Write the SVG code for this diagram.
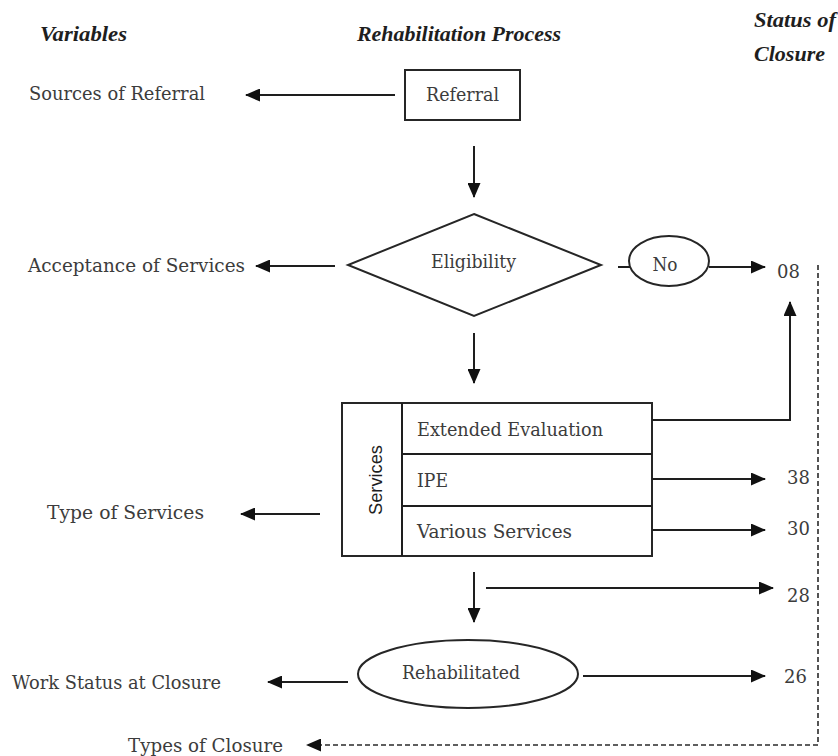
<svg xmlns="http://www.w3.org/2000/svg" width="838" height="756" viewBox="0 0 838 756">
<style>
.head{font-family:"Liberation Serif","Times New Roman",serif;font-style:italic;font-weight:bold;font-size:20px;fill:#1e1e1e}
.lbl{font-family:"DejaVu Serif","Liberation Serif",serif;font-size:18px;fill:#3c3c3c}
.num{font-family:"DejaVu Serif","Liberation Serif",serif;font-size:18px;fill:#3c3c3c}
.sans{font-family:"Liberation Sans",Arial,sans-serif;font-size:19px;fill:#1e1e1e}
.shape{fill:#fff;stroke:#262626;stroke-width:2}
.conn{fill:none;stroke:#1e1e1e;stroke-width:2}
.dash{fill:none;stroke:#2a2a2a;stroke-width:1.6;stroke-dasharray:5 3}
</style>
<defs>
<marker id="ah" markerUnits="userSpaceOnUse" markerWidth="15" markerHeight="13" refX="14" refY="6.5" orient="auto">
<path d="M0,0 L15,6.5 L0,13 z" fill="#111"/>
</marker>
</defs>
<rect width="838" height="756" fill="#fff"/>

<g id="headers">
<text class="head" x="40" y="41" textLength="87" lengthAdjust="spacingAndGlyphs">Variables</text>
<text class="head" x="357" y="41" textLength="204" lengthAdjust="spacingAndGlyphs">Rehabilitation Process</text>
<text class="head" x="754" y="27" textLength="82" lengthAdjust="spacingAndGlyphs">Status of</text>
<text class="head" x="754" y="61" textLength="71" lengthAdjust="spacingAndGlyphs">Closure</text>
</g>

<g id="variables">
<text class="lbl" x="29" y="100" textLength="176" lengthAdjust="spacingAndGlyphs">Sources of Referral</text>
<text class="lbl" x="28" y="272" textLength="217" lengthAdjust="spacingAndGlyphs">Acceptance of Services</text>
<text class="lbl" x="47" y="519" textLength="157" lengthAdjust="spacingAndGlyphs">Type of Services</text>
<text class="lbl" x="12" y="689" textLength="209" lengthAdjust="spacingAndGlyphs">Work Status at Closure</text>
<text class="lbl" x="128" y="752" textLength="155" lengthAdjust="spacingAndGlyphs">Types of Closure</text>
</g>

<g id="status-codes">
<text class="num" x="777" y="278">08</text>
<text class="num" x="787" y="484">38</text>
<text class="num" x="787" y="535">30</text>
<text class="num" x="787" y="602">28</text>
<text class="num" x="784" y="683">26</text>
</g>

<g id="referral">
<rect class="shape" x="405" y="70" width="115" height="50"/>
<text class="lbl" x="462.5" y="101" text-anchor="middle" textLength="73" lengthAdjust="spacingAndGlyphs">Referral</text>
</g>

<g id="eligibility">
<polygon class="shape" points="474,214 601,265 474,316 348,265"/>
<text class="lbl" x="473.5" y="268" text-anchor="middle" textLength="85" lengthAdjust="spacingAndGlyphs">Eligibility</text>
</g>

<g id="no">
<ellipse class="shape" cx="669" cy="261" rx="40" ry="25"/>
<text class="lbl" x="665" y="271" text-anchor="middle" textLength="25" lengthAdjust="spacingAndGlyphs">No</text>
</g>

<g id="services">
<rect class="shape" x="342" y="403" width="310" height="153"/>
<line class="conn" x1="402" y1="403" x2="402" y2="556"/>
<line class="conn" x1="402" y1="454" x2="652" y2="454"/>
<line class="conn" x1="402" y1="506" x2="652" y2="506"/>
<text class="sans" transform="translate(382,480) rotate(-90)" x="0" y="0" text-anchor="middle" textLength="70" lengthAdjust="spacingAndGlyphs">Services</text>
<text class="lbl" x="417" y="436" textLength="186" lengthAdjust="spacingAndGlyphs">Extended Evaluation</text>
<text class="lbl" x="417" y="487" textLength="31" lengthAdjust="spacingAndGlyphs">IPE</text>
<text class="lbl" x="417" y="538" textLength="155" lengthAdjust="spacingAndGlyphs">Various Services</text>
</g>

<g id="rehabilitated">
<ellipse class="shape" cx="468" cy="674" rx="110" ry="34"/>
<text class="lbl" x="461" y="679" text-anchor="middle" textLength="118" lengthAdjust="spacingAndGlyphs">Rehabilitated</text>
</g>

<g id="connectors">
<line class="conn" x1="395" y1="95" x2="246" y2="95" marker-end="url(#ah)"/>
<line class="conn" x1="474" y1="146" x2="474" y2="197" marker-end="url(#ah)"/>
<line class="conn" x1="335" y1="266" x2="256" y2="266" marker-end="url(#ah)"/>
<line class="conn" x1="618" y1="267" x2="630" y2="267"/>
<line class="conn" x1="709" y1="267" x2="765" y2="267" marker-end="url(#ah)"/>
<line class="conn" x1="474" y1="333" x2="474" y2="383" marker-end="url(#ah)"/>
<line class="conn" x1="320" y1="514" x2="241" y2="514" marker-end="url(#ah)"/>
<polyline class="conn" points="652,420 790,420 790,302" marker-end="url(#ah)"/>
<line class="conn" x1="652" y1="479" x2="765" y2="479" marker-end="url(#ah)"/>
<line class="conn" x1="652" y1="530" x2="765" y2="530" marker-end="url(#ah)"/>
<line class="conn" x1="474" y1="572" x2="474" y2="622" marker-end="url(#ah)"/>
<line class="conn" x1="486" y1="588" x2="773" y2="588" marker-end="url(#ah)"/>
<line class="conn" x1="348" y1="682" x2="268" y2="682" marker-end="url(#ah)"/>
<line class="conn" x1="583" y1="676" x2="765" y2="676" marker-end="url(#ah)"/>
<polyline class="dash" points="818,265 818,745 307,745" marker-end="url(#ah)"/>
</g>
</svg>
